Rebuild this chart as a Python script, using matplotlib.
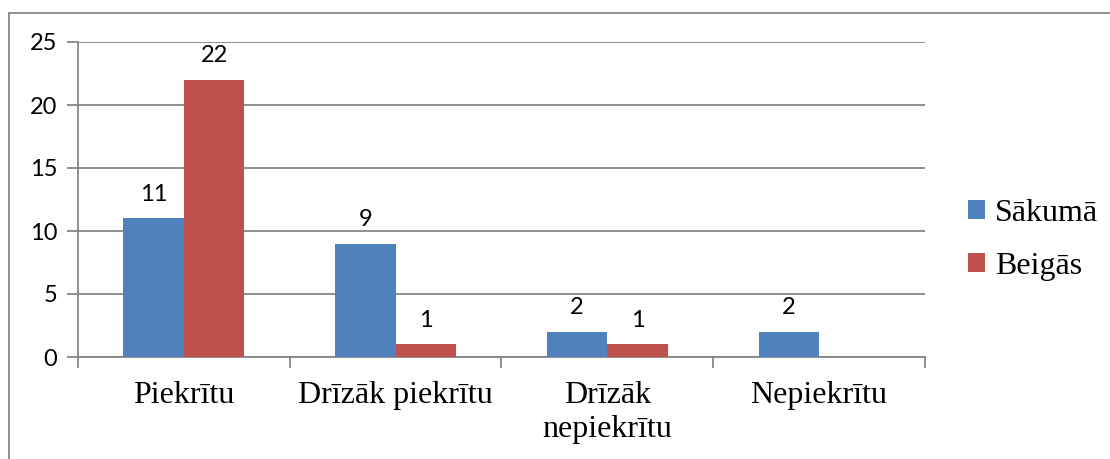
import numpy as np
import matplotlib
matplotlib.use('Agg')
import matplotlib.pyplot as plt
import matplotlib.patches as patches

categories = ['Piekrītu', 'Drīzāk piekrītu', 'Drīzāk\nnepiekrītu', 'Nepiekrītu']
sakuma = [11, 9, 2, 2]
beigas = [22, 1, 1, None]
series_names = ['Sākumā', 'Beigās']
yticks = [0, 5, 10, 15, 20, 25]

blue = '#4F81BD'
red = '#C0504D'
grid_c = '#868686'
sans = 'Lato'
serif = 'Liberation Serif'

fig = plt.figure(figsize=(11.10, 4.59), dpi=100)
ax = fig.add_axes([78/1110, 1 - 357/459, (925 - 78)/1110, (357 - 42)/459])

x = np.arange(len(categories))
w = 1 / 3.5
b_vals = [v if v is not None else 0 for v in beigas]
bars1 = ax.bar(x - w/2, sakuma, w, color=blue, label=series_names[0], zorder=3)
bars2 = ax.bar(x + w/2, b_vals, w, color=red, label=series_names[1], zorder=3)

for bars, vals in [(bars1, sakuma), (bars2, beigas)]:
    for rect, v in zip(bars, vals):
        if v is None:
            continue
        ax.annotate(str(v), (rect.get_x() + rect.get_width()/2, v), xytext=(0, 12.5),
                    textcoords='offset points', ha='center', va='baseline',
                    fontsize=17, family=sans)

ax.set_xlim(-0.5, len(categories) - 0.5)
ax.set_ylim(0, 25)
ax.set_yticks(yticks)
ax.set_yticklabels([str(t) for t in yticks], fontsize=17, family=sans)
ax.yaxis.grid(True, color=grid_c, linewidth=1.3, zorder=0)

# category labels between boundary ticks
ax.set_xticks(np.arange(len(categories) + 1) - 0.5)
ax.set_xticklabels([])
ax.set_xticks(x, minor=True)
ax.set_xticklabels(categories, minor=True, fontsize=23, family=serif,
                   linespacing=1.25)
ax.tick_params(axis='x', which='minor', length=0, pad=17)
ax.tick_params(axis='x', which='major', length=8, width=1.3, color=grid_c)
ax.tick_params(axis='y', length=8, width=1.3, color=grid_c, pad=7)

for s in ['top', 'right']:
    ax.spines[s].set_visible(False)
for s in ['left', 'bottom']:
    ax.spines[s].set_color(grid_c)
    ax.spines[s].set_linewidth(1.3)

leg = fig.legend(handles=[bars1, bars2], labels=series_names,
                 loc='center left', bbox_to_anchor=(939/1110, 1 - 240/459),
                 frameon=False, fontsize=23,
                 handlelength=0.55, handleheight=0.55, handletextpad=0.3,
                 labelspacing=0.76)
for t in leg.get_texts():
    t.set_family(serif)

fig.add_artist(patches.Rectangle((9/1110, -0.1), 1.2, 1 - 13/459 + 0.1,
                                 transform=fig.transFigure, fill=False,
                                 edgecolor=grid_c, linewidth=1.3, clip_on=False))

fig.savefig('out.png', dpi=100)
